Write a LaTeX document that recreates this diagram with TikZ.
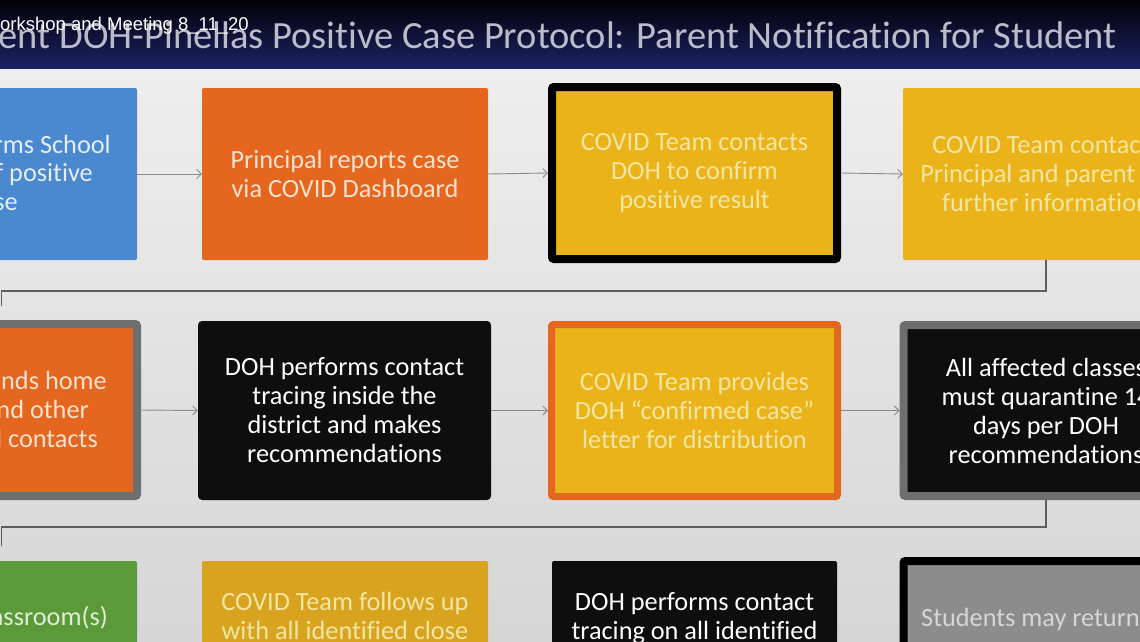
\documentclass[tikz,border=0pt]{standalone}
\usepackage{fontspec}
\setmainfont{Carlito}[Ligatures=NoCommon]
\newfontfamily\ovlfont{Liberation Sans}
\usetikzlibrary{arrows.meta}
\definecolor{bgtop}{HTML}{EEEEEE}
\definecolor{bgbot}{HTML}{D6D6D6}
\definecolor{hdtop}{HTML}{020207}
\definecolor{hdbot}{HTML}{1C2264}
\definecolor{titlecol}{HTML}{B9BDCA}
\definecolor{cblue}{HTML}{4A89CF}
\definecolor{corange}{HTML}{E5661F}
\definecolor{cyellow}{HTML}{EBB31A}
\definecolor{cyellowdk}{HTML}{D8A420}
\definecolor{cblack}{HTML}{0E0E0E}
\definecolor{cgreen}{HTML}{5A9A38}
\definecolor{cgrey}{HTML}{8C8C8C}
\definecolor{cborder}{HTML}{6E6E6E}
\definecolor{tyellow}{HTML}{F3E6A2}
\definecolor{torange}{HTML}{F6E2CF}
\definecolor{tblue}{HTML}{E4EDF8}
\definecolor{tgreen}{HTML}{E2EDD8}
\definecolor{tgrey}{HTML}{D6D6D6}
\definecolor{arrgray}{HTML}{8A8A8A}
\definecolor{fbgray}{HTML}{5E5E5E}
\newcommand\boxfont{\fontsize{26.3}{29}\selectfont}
\begin{document}
\begin{tikzpicture}[x=1pt,y=-1pt,
  stdbox/.style={rectangle, rounded corners=2pt, inner sep=0pt, align=center,
    font=\boxfont, minimum width=286pt, minimum height=172pt},
  bordbox/.style={stdbox, line width=8pt, minimum width=285pt, minimum height=172pt},
  tall/.style={minimum height=179pt},
  txt/.style={inner sep=0pt, font=\boxfont, align=center},
  arr/.style={draw=arrgray, line width=0.9pt, -{Straight Barb[length=4.5pt,width=9pt]}},
  fb/.style={draw=fbgray, line width=1.4pt}]
\useasboundingbox (0,0) rectangle (1140,641);
\begin{scope}
\clip (0,0) rectangle (1140,641);
% background and header
\shade[top color=bgtop, bottom color=bgbot] (0,68) rectangle (1140,641);
\shade[top color=hdtop, bottom color=hdbot] (0,0) rectangle (1140,68);
\node[anchor=base east, inner sep=0pt, text=titlecol, font=\fontsize{38.5}{40}\selectfont] (title) at (1117,48)
  {ent DOH-Pinellas Positive Case Protocol: Parent Notification for Student};
\node[anchor=west, inner sep=0pt, text=white, font=\ovlfont\fontsize{18.5}{19}\selectfont] (ovl) at (0,26)
  {orkshop and Meeting 8\_11\_20};

% row 1
\node[stdbox, fill=cblue, minimum width=287pt] (A) at (-6.5,174) {};
\node[txt, text=tblue, anchor=mid east] (a1) at (111,151) {rms School};
\node[txt, text=tblue, anchor=mid east] (a2) at (93,179) {f positive};
\node[txt, text=tblue, anchor=mid east] (a3) at (18,208) {se};
\node[stdbox, fill=corange, text=torange] (B) at (345,174) {Principal reports case\\via COVID Dashboard};
\node[bordbox, draw=black, fill=cyellow, text=tyellow] (C) at (694.5,173) {COVID Team contacts\\DOH to confirm\\positive result};
\node[stdbox, fill=cyellow, text=tyellow] (D) at (1046,174) {COVID Team contacts\\Principal and parent\hphantom{ for}\\further information};

% row 2
\node[bordbox, draw=cborder, fill=corange, minimum height=172pt] (E) at (-5.5,410) {};
\node[txt, text=torange, anchor=mid east] (e1) at (107,387) {ends home};
\node[txt, text=torange, anchor=mid east] (e2) at (89,416) {nd other};
\node[txt, text=torange, anchor=mid east] (e3) at (98,445) {d contacts};
\node[stdbox, tall, fill=cblack, text=white, minimum width=293pt, rounded corners=4pt] (F) at (344.5,410.5)
  {DOH performs contact\\tracing inside the\\district and makes\\recommendations};
\node[bordbox, draw=corange, line width=7pt, minimum width=286pt, fill=cyellow, text=tyellow] (G) at (694.5,410.5)
  {COVID Team provides\\DOH “confirmed case”\\letter for distribution};
\node[bordbox, draw=cborder, fill=cblack, text=white, minimum height=171pt] (H) at (1046,410.5)
  {All affected classes\\must quarantine 14\\days per DOH\\recommendations};

% row 3
\node[stdbox, tall, fill=cgreen, minimum width=287pt] (I) at (-6.5,650.5) {};
\node[txt, text=tgreen, anchor=mid east] (i1) at (108,623) {assroom(s)};
\node[stdbox, tall, fill=cyellowdk] (J) at (345,650.5) {};
\node[txt, text=tyellow] (j1) at (345,616) {COVID Team follows up\\with all identified close};
\node[stdbox, tall, fill=cblack, minimum width=285pt] (K) at (694.5,650.5) {};
\node[txt, text=white] (k1) at (694.5,618) {DOH performs contact\\tracing on all identified};
\node[bordbox, draw=black, fill=cgrey, minimum height=180pt] (L) at (1046,651) {};
\node[txt, text=tgrey, anchor=mid west] (l1) at (921,624) {Students may return};

% connectors
\draw[arr] (A.east) -- (B.west);
\draw[arr] (B.east) -- (C.west);
\draw[arr] (C.east) -- (D.west);
\draw[arr] (E.east) -- (F.west);
\draw[arr] (F.east) -- (G.west);
\draw[arr] (G.east) -- (H.west);
\coordinate (r1) at (1.5,291);
\coordinate (r1e) at (1.5,306);
\coordinate (r2) at (1.5,527);
\coordinate (r2e) at (1.5,546);
\draw[fb] (D.south) |- (r1) -- (r1e);
\draw[fb] (H.south) |- (r2) -- (r2e);
\end{scope}
\end{tikzpicture}
\end{document}
